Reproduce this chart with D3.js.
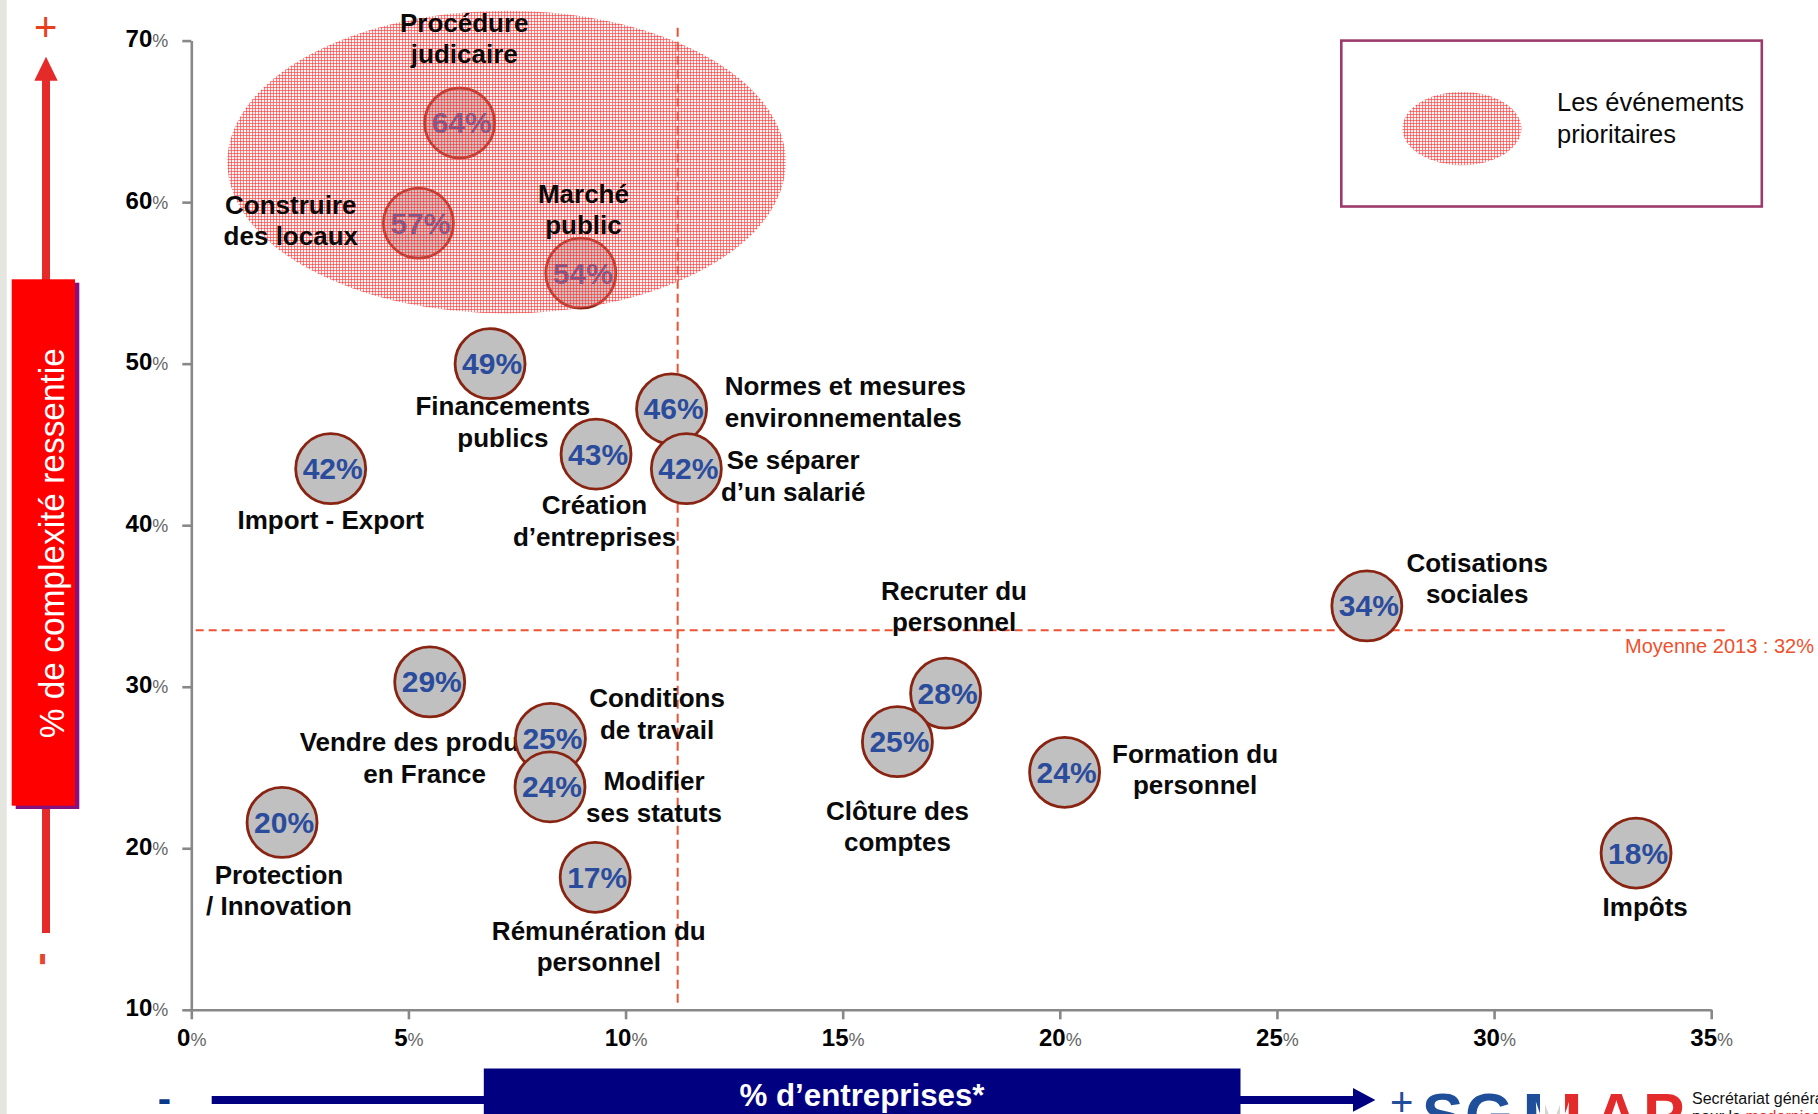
<!DOCTYPE html>
<html><head><meta charset="utf-8">
<script src="https://cdn.jsdelivr.net/npm/d3@7"></script>
<style>html,body{margin:0;padding:0;background:#fff;overflow:hidden}</style>
</head><body>
<svg id="chart" width="1818" height="1114"></svg>
<script>
// ---------- DATA ----------
const names = ["Procédure judicaire","Construire des locaux","Marché public","Financements publics",
  "Normes et mesures environnementales","Création d’entreprises","Se séparer d’un salarié","Import - Export",
  "Recruter du personnel","Cotisations sociales","Vendre des produits en France","Conditions de travail",
  "Clôture des comptes","Modifier ses statuts","Formation du personnel","Protection / Innovation",
  "Impôts","Rémunération du personnel"];
const labelLines = [["Procédure","judicaire"],["Construire","des locaux"],["Marché","public"],["Financements","publics"],
  ["Normes et mesures","environnementales"],["Création","d’entreprises"],["Se séparer","d’un salarié"],["Import - Export"],
  ["Recruter du","personnel"],["Cotisations","sociales"],["Vendre des produits","en France"],["Conditions","de travail"],
  ["Clôture des","comptes"],["Modifier","ses statuts"],["Formation du","personnel"],["Protection","/ Innovation"],
  ["Impôts"],["Rémunération du","personnel"]];
// % d'entreprises (x) and % de complexité ressentie (y) as placed in the picture
const xValues = [6.18,5.23,8.97,6.88,11.06,9.32,11.40,3.21,17.37,27.07,5.49,8.27,16.26,8.26,20.11,2.09,33.27,9.30];
const yValues = [64.9,58.7,55.6,50.0,47.2,44.4,43.5,43.5,29.6,35.0,30.3,26.8,26.6,23.8,24.7,21.6,19.7,18.2];
const valueLabels = ["64%","57%","54%","49%","46%","43%","42%","42%","28%","34%","29%","25%","25%","24%","24%","20%","18%","17%"];
const prioritaires = ["Procédure judicaire","Construire des locaux","Marché public"];
const xTicks = [0,5,10,15,20,25,30,35];
const yTicks = [10,20,30,40,50,60,70];
const meanX = 11.2;
const meanY = 33.5;
const meanLabel = "Moyenne 2013 : 32%";
const priorityZone = [7.26, 62.48, 6.43, 9.37]; // centre x, centre y, half-width, half-height (data units)
const yTitle = "% de complexité ressentie";
const xTitle = "% d’entreprises*";
const legendLines = ["Les événements","prioritaires"];

// ---------- LAYOUT ----------
const W = 1818, H = 1114;
const labelLayout = [
 [4.6,-91,"middle"],[-127.6,-9.6,"middle"],[2.6,-70.7,"middle"],[12.8,51.8,"middle"],
 [53.1,-13.6,"start"],[-1.5,60,"middle"],[106.8,0.7,"middle"],[0,60.4,"middle"],
 [8.4,-93.3,"middle"],[110.4,-34.1,"middle"],[-5.1,69.2,"middle"],[106.6,-31.2,"middle"],
 [0,78.3,"middle"],[104,3.3,"middle"],[130.5,-9.5,"middle"],[-3.1,61.1,"middle"],
 [9.1,63.3,"middle"],[3.6,62.5,"middle"]];
const lineH = 31.5;
const FONT = "'Liberation Sans', Arial, sans-serif";

const svg = d3.select("#chart");
svg.append("rect").attr("width",W).attr("height",H).attr("fill","#fff");
svg.append("rect").attr("x",0).attr("y",0).attr("width",6.7).attr("height",H).attr("fill","#e6e6e1");

const x = d3.scaleLinear().domain([0,35]).range([191.3,1711.2]);
const y = d3.scaleLinear().domain([10,70]).range([1009.8,40.6]);

// pattern
const defs = svg.append("defs");
const pat = defs.append("pattern").attr("id","hatch").attr("patternUnits","userSpaceOnUse")
  .attr("width",3).attr("height",3);
pat.append("rect").attr("width",3).attr("height",3).attr("fill","rgba(255,200,200,0.22)");
pat.append("rect").attr("width",3).attr("height",1).attr("fill","rgba(255,45,45,0.58)");
pat.append("rect").attr("width",1).attr("height",3).attr("fill","rgba(255,45,45,0.58)");
const grad = defs.append("linearGradient").attr("id","tricolore").attr("gradientUnits","userSpaceOnUse")
  .attr("x1",1522).attr("x2",1583).attr("y1",0).attr("y2",0);
[["0%","#1f4e9a"],["30%","#1f4e9a"],["30%","#fff"],["37%","#fff"],["37%","#d3d3cf"],["63%","#d3d3cf"],["63%","#fff"],["70%","#fff"],["70%","#e32b2b"],["100%","#e32b2b"]]
  .forEach(s=>grad.append("stop").attr("offset",s[0]).attr("stop-color",s[1]));

// ---------- LEFT DECORATION ----------
const redA = "#e52a2a";
svg.append("text").attr("x",45.7).attr("y",40.7).attr("text-anchor","middle")
  .attr("font-family",FONT).attr("font-size",40).attr("fill","#e8401c").text("+");
svg.append("path").attr("d","M46,56.7L57.7,80.7L34.3,80.7Z").attr("fill",redA);
svg.append("rect").attr("x",42).attr("y",80).attr("width",8).attr("height",200).attr("fill",redA);
svg.append("rect").attr("x",42).attr("y",800).attr("width",8).attr("height",133).attr("fill",redA);
svg.append("rect").attr("x",15.7).attr("y",282.7).attr("width",63.6).attr("height",526.3).attr("fill","#86107e");
svg.append("rect").attr("x",11.7).attr("y",279.3).attr("width",63.3).attr("height",526.4).attr("fill","#ff0000");
svg.append("text").attr("transform","translate(63.8,543.2) rotate(-90)").attr("text-anchor","middle")
  .attr("font-family",FONT).attr("font-size",35).attr("fill","#fff")
  .attr("textLength",390).attr("lengthAdjust","spacingAndGlyphs").text(yTitle);
svg.append("text").attr("transform","translate(52.7,959) rotate(-90)").attr("text-anchor","middle")
  .attr("font-family",FONT).attr("font-weight","bold").attr("font-size",40).attr("fill","#e8462a").text("-");

// ---------- BOTTOM DECORATION ----------
const navy = "#000080";
svg.append("text").attr("x",164.5).attr("y",1112).attr("text-anchor","middle")
  .attr("font-family",FONT).attr("font-weight","bold").attr("font-size",40).attr("fill","#0b3a8a").text("-");
svg.append("rect").attr("x",211.7).attr("y",1096).attr("width",1142).attr("height",8).attr("fill",navy);
svg.append("path").attr("d","M1353,1088L1375.4,1100L1353,1111.7Z").attr("fill",navy);
svg.append("rect").attr("x",483.8).attr("y",1068.5).attr("width",756.7).attr("height",50).attr("fill",navy);
svg.append("text").attr("x",862).attr("y",1105.5).attr("text-anchor","middle")
  .attr("font-family",FONT).attr("font-weight","bold").attr("font-size",31).attr("fill","#fff")
  .attr("textLength",245).attr("lengthAdjust","spacingAndGlyphs").text(xTitle);
svg.append("text").attr("x",1401.8).attr("y",1115.7).attr("text-anchor","middle")
  .attr("font-family",FONT).attr("font-size",40).attr("fill","#1f4e9a").text("+");
// SGMAP logo (cut by the bottom edge)
const logo = svg.append("g").attr("font-family",FONT).attr("font-weight","bold").attr("font-size",62);
logo.append("text").attr("x",1422).attr("y",1136).attr("fill","#1f4e9a").text("S");
logo.append("text").attr("x",1465).attr("y",1136).attr("fill","#1f4e9a").text("G");
logo.append("text").attr("x",1522).attr("y",1136).attr("fill","url(#tricolore)")
  .attr("textLength",61).attr("lengthAdjust","spacingAndGlyphs").text("M");
logo.append("text").attr("x",1594).attr("y",1136).attr("fill","#e32b2b").text("A");
logo.append("text").attr("x",1643).attr("y",1136).attr("fill","#e32b2b").text("P");
svg.append("text").attr("x",1692).attr("y",1104).attr("font-family",FONT).attr("font-size",16)
  .attr("fill","#111").text("Secrétariat général");
const l2 = svg.append("text").attr("x",1692).attr("y",1122).attr("font-family",FONT).attr("font-size",16).attr("fill","#111");
l2.append("tspan").text("pour la ");
l2.append("tspan").attr("fill","#e32b2b").text("modernisation");

// ---------- AXES ----------
function styleTicks(g){
  g.attr("font-size",null).attr("font-family",null).attr("color","#888");
  g.select(".domain").attr("stroke-width",2.6);
  g.selectAll(".tick line").attr("stroke-width",2.6);
  g.selectAll(".tick text").each(function(d){
    const t = d3.select(this);
    t.text(null).attr("fill","#000").attr("font-family",FONT);
    t.append("tspan").attr("font-size",24).attr("font-weight","bold").text(d);
    t.append("tspan").attr("font-size",18).attr("fill","#666").text("%");
  });
}
const gY = svg.append("g").attr("transform",`translate(${x(0)},0)`)
  .call(d3.axisLeft(y).tickValues(yTicks).tickSize(9).tickSizeOuter(0).tickPadding(14));
styleTicks(gY);
gY.selectAll(".tick text").attr("dy","0.37em");
const gX = svg.append("g").attr("transform",`translate(0,${y(10)})`)
  .call(d3.axisBottom(x).tickValues(xTicks).tickSize(9.5).tickSizeOuter(0).tickPadding(15.5));
styleTicks(gX);

// ---------- MEAN LINES ----------
const dashCol = "#ee5232";
svg.append("line").attr("x1",x(meanX)).attr("x2",x(meanX)).attr("y1",y(70.8)).attr("y2",y(10.4))
  .attr("stroke",dashCol).attr("stroke-width",2).attr("stroke-dasharray","9,5");
svg.append("line").attr("x1",x(0.1)).attr("x2",x(35.4)).attr("y1",y(meanY)).attr("y2",y(meanY))
  .attr("stroke",dashCol).attr("stroke-width",2).attr("stroke-dasharray","8,5");
svg.append("text").attr("x",W-4).attr("y",y(meanY)+22.5).attr("text-anchor","end")
  .attr("font-family",FONT).attr("font-size",20).attr("fill","#f0502c").text(meanLabel);

// ---------- DATA ----------
const data = names.map((n,i)=>({name:n, x:xValues[i], y:yValues[i], v:valueLabels[i], lines:labelLines[i],
  lay:labelLayout[i], prio:prioritaires.includes(n)}));

function drawLabels(sel){
  sel.each(function(d){
    const g = d3.select(this);
    const t = g.append("text").attr("font-family",FONT).attr("font-weight","bold").attr("font-size",26)
      .attr("fill","#0a0a0a").attr("text-anchor",d.lay[2]);
    d.lines.forEach((ln,k)=>{
      t.append("tspan").attr("x",x(d.x)+d.lay[0]).attr("y",y(d.y)+d.lay[1]+k*lineH).text(ln);
    });
  });
}
svg.append("g").selectAll("g").data(data.filter(d=>!d.prio)).join("g").call(drawLabels);

const bub = svg.append("g").selectAll("g").data(data).join("g")
  .attr("transform",d=>`translate(${x(d.x)},${y(d.y)})`);
bub.append("circle").attr("r",35).attr("fill","#c0c0c0").attr("stroke","#8a2412").attr("stroke-width",2.8);
bub.append("text").attr("x",2).attr("y",10.5).attr("text-anchor","middle").attr("font-family",FONT)
  .attr("font-weight","bold").attr("font-size",30).attr("fill","#2b4c9c").text(d=>d.v);

// priority zone
svg.append("ellipse").attr("cx",x(priorityZone[0])).attr("cy",y(priorityZone[1]))
  .attr("rx",x(priorityZone[0]+priorityZone[2])-x(priorityZone[0]))
  .attr("ry",y(priorityZone[1]-priorityZone[3])-y(priorityZone[1]))
  .attr("fill","url(#hatch)");
svg.append("g").selectAll("g").data(data.filter(d=>d.prio)).join("g").call(drawLabels);

// ---------- LEGEND ----------
svg.append("rect").attr("x",1341.3).attr("y",40.6).attr("width",420.5).attr("height",165.9)
  .attr("fill","none").attr("stroke","#9c3a6c").attr("stroke-width",2.6);
svg.append("ellipse").attr("cx",1461.9).attr("cy",128.5).attr("rx",59.5).attr("ry",36.7).attr("fill","url(#hatch)");
const lt = svg.append("text").attr("font-family",FONT).attr("font-size",25.5).attr("fill","#0a0a0a");
legendLines.forEach((s,k)=>lt.append("tspan").attr("x",1557).attr("y",110.7+k*32).text(s));
</script>
</body></html>
